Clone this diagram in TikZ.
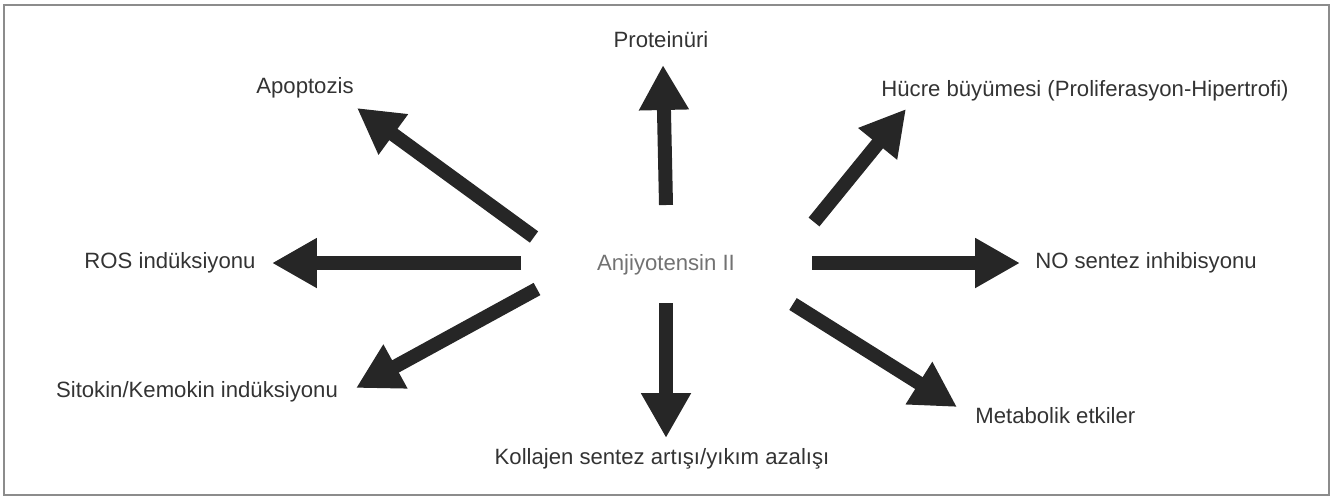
\documentclass[tikz,border=0pt]{standalone}
\usepackage{fontspec}
\setmainfont{Liberation Sans}
\usepackage{tikz}
\usetikzlibrary{arrows.meta}
\definecolor{Ink}{HTML}{333333}
\definecolor{Muted}{HTML}{727272}
\definecolor{Rule}{HTML}{8C8C8C}
\definecolor{Shaft}{HTML}{262626}
\tikzset{
  effect/.style={inner sep=0pt,text=Ink,font=\fontsize{12.6}{15}\selectfont},
  hub/.style={effect,text=Muted},
  bigarrow/.style={-{Triangle[length=0.9cm,width=0.94cm]},line width=0.28cm,draw=Shaft},
  frame/.style={draw=Rule,line width=0.9pt}
}

\begin{document}
\begin{tikzpicture}[x=0.02cm,y=-0.02cm]
  \useasboundingbox (0,0) rectangle (1335,498);
  \draw[frame] (4,5) rectangle (1329,495);
  % centre and effects
  \node[hub] (anj) at (666,265) {Anjiyotensin II};
  \node[effect] (prot) at (661,40) {Proteinüri};
  \node[effect] (apop) at (305,88) {Apoptozis};
  \node[effect] (hucre) at (1085,91) {Hücre büyümesi (Proliferasyon-Hipertrofi)};
  \node[effect] (ros) at (170,263) {ROS indüksiyonu};
  \node[effect] (nosent) at (1146,263) {NO sentez inhibisyonu};
  \node[effect] (sito) at (197,392) {Sitokin/Kemokin indüksiyonu};
  \node[effect] (koll) at (662,459) {Kollajen sentez artışı/yıkım azalışı};
  \node[effect,anchor=west] (meta) at (975,416) {Metabolik etkiler};
  % arrow ends around the centre
  \coordinate (protTail) at (666,205);
  \coordinate (protTip) at (663,65);
  \coordinate (apopTail) at (534,237);
  \coordinate (apopTip) at (357,108);
  \coordinate (hucreTail) at (814,222);
  \coordinate (hucreTip) at (906,109);
  \coordinate (rosTail) at (521,263);
  \coordinate (rosTip) at (272,263);
  \coordinate (noTail) at (812,263);
  \coordinate (noTip) at (1020,263);
  \coordinate (sitoTail) at (537,289);
  \coordinate (sitoTip) at (356,388);
  \coordinate (kollTail) at (666,303);
  \coordinate (kollTip) at (666,438);
  \coordinate (metaTail) at (793,304);
  \coordinate (metaTip) at (957,407);
  \draw[bigarrow] (protTail)--(protTip);
  \draw[bigarrow] (apopTail)--(apopTip);
  \draw[bigarrow] (hucreTail)--(hucreTip);
  \draw[bigarrow] (rosTail)--(rosTip);
  \draw[bigarrow] (noTail)--(noTip);
  \draw[bigarrow] (sitoTail)--(sitoTip);
  \draw[bigarrow] (kollTail)--(kollTip);
  \draw[bigarrow] (metaTail)--(metaTip);
\end{tikzpicture}
\end{document}
